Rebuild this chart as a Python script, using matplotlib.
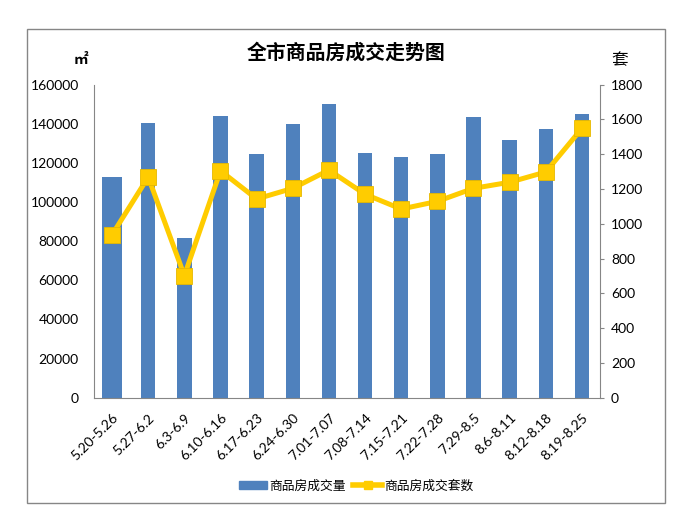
import matplotlib
matplotlib.use("Agg")
import matplotlib.pyplot as plt
from matplotlib.patches import Rectangle
from matplotlib.lines import Line2D
import numpy as np

plt.rcParams['font.family'] = ['Noto Sans CJK SC', 'DejaVu Sans']

categories = ["5.20-5.26", "5.27-6.2", "6.3-6.9", "6.10-6.16", "6.17-6.23", "6.24-6.30",
              "7.01-7.07", "7.08-7.14", "7.15-7.21", "7.22-7.28", "7.29-8.5", "8.6-8.11",
              "8.12-8.18", "8.19-8.25"]
area = [112800, 140400, 81600, 144100, 124600, 140000, 150100, 125100, 123000, 124600,
        143500, 131700, 137300, 145200]
units = [937, 1269, 702, 1305, 1143, 1204, 1309, 1170, 1085, 1129, 1204, 1239, 1298, 1549]
left_ticks = [0, 20000, 40000, 60000, 80000, 100000, 120000, 140000, 160000]
right_ticks = [0, 200, 400, 600, 800, 1000, 1200, 1400, 1600, 1800]

W, H = 694, 525
fig = plt.figure(figsize=(W / 100, H / 100), dpi=100)
fig.patch.set_facecolor('white')

# outer border
fig.add_artist(Rectangle((27 / W, 1 - 503 / H), 638 / W, 474 / H, transform=fig.transFigure,
                         fill=False, edgecolor='#868686', linewidth=1.0))

ax = fig.add_axes([94 / W, 1 - 397.7 / H, 506 / W, 313 / H])
ax2 = ax.twinx()

blue = '#4F81BD'
yellow = '#FFCC00'
gray = '#868686'
numfont = 'Lato'

x = np.arange(len(categories))
widths = [0.53] + [0.40] * (len(categories) - 1)
ax.bar(x, area, width=widths, color=blue, zorder=2)
ax.set_xlim(-0.5, len(categories) - 0.5)
ax.set_ylim(0, 160000)
ax.set_yticks(left_ticks)
ax.set_yticklabels([str(v) for v in left_ticks], fontfamily=numfont, fontsize=10)
ax.tick_params(axis='y', length=0, pad=11)
ax.set_xticks(x)
ax.set_xticklabels(categories, rotation=45, ha='right', rotation_mode='anchor',
                   fontfamily=numfont, fontsize=10)
ax.tick_params(axis='x', length=0, pad=10)

ax2.plot(x, units, color=yellow, linewidth=3.6, marker='s', markersize=12,
         markerfacecolor=yellow, markeredgecolor='#E6B800', markeredgewidth=0.6, zorder=3)
ax2.set_ylim(0, 1800)
ax2.set_yticks(right_ticks)
ax2.set_yticklabels([str(v) for v in right_ticks], fontfamily=numfont, fontsize=10)
ax2.tick_params(axis='y', length=3, color=gray, pad=5, direction='out')

for a in (ax, ax2):
    a.spines['top'].set_visible(False)
    for s in ('left', 'right', 'bottom'):
        a.spines[s].set_color(gray)
ax2.spines['left'].set_visible(False)
ax.spines['right'].set_visible(False)
ax2.spines['bottom'].set_visible(False)

fig.text(346 / W, 1 - 52.5 / H, '全市商品房成交走势图', ha='center', va='center',
         fontsize=14.3, fontweight='bold')
fig.text(81 / W, 1 - 59 / H, '㎡', ha='center', va='center', fontsize=10.5, fontweight='bold')
fig.text(620 / W, 1 - 61 / H, '套', ha='center', va='center', fontsize=12)

handles = [Rectangle((0, 0), 1, 1, color=blue),
           Line2D([], [], color=yellow, linewidth=4, marker='s', markersize=6,
                  markerfacecolor=yellow, markeredgecolor=yellow)]
fig.legend(handles, ['商品房成交量', '商品房成交套数'], loc='center',
           bbox_to_anchor=(356 / W, 1 - 486 / H), ncol=2, frameon=False, fontsize=9.2,
           handlelength=2.2, handleheight=0.6, columnspacing=0.6, handletextpad=0.2)

fig.savefig('out.png', dpi=100)
